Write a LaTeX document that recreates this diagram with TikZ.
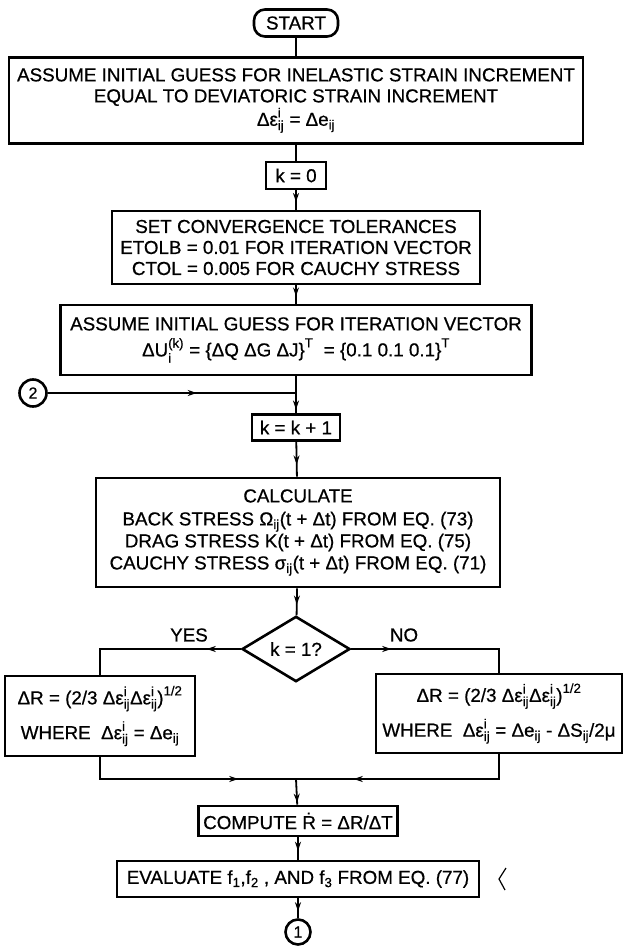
\documentclass[tikz,border=0pt]{standalone}
\usepackage{amsmath}
\usepackage{fontspec}
\setmainfont{Liberation Sans}[FakeBold=0.6]
\usetikzlibrary{arrows.meta,decorations.markings,shapes.geometric}
\newcommand{\fsz}{\fontsize{18.8}{21}\selectfont}
\newcommand{\tx}[1]{\text{#1}}
\newcommand{\DEi}{\tx{Δε}^{\tx{i}}_{\tx{ij}}}
\begin{document}
\begin{tikzpicture}[x=1pt,y=-1pt,
  box/.style={draw,line width=2.6pt,inner sep=0pt,align=center,font=\fsz},
  conn/.style={line width=1.8pt},
  ma/.style={postaction={decorate},decoration={markings,mark=at position #1 with {\arrow{Stealth[length=9pt,width=6pt]}}}},
  lbl/.style={font=\fsz,inner sep=0pt},
  conncirc/.style={draw,circle,line width=2.6pt,inner sep=0pt,font=\fontsize{16}{17}\selectfont}
]
\fill[white] (0,0) rectangle (623,947);
\useasboundingbox (0,0) rectangle (623,947);

\node[box,rounded corners=11pt,minimum width=84pt,minimum height=27pt] (start) at (296,23) {START};
\node[box,minimum width=574pt,minimum height=86pt] (box1) at (296,100.5)
  {ASSUME INITIAL GUESS FOR INELASTIC STRAIN INCREMENT\\EQUAL TO DEVIATORIC STRAIN INCREMENT\\[1pt]
   $\DEi\tx{ = Δe}_{\tx{ij}}$};
\node[box,minimum width=60pt,minimum height=27pt] (k0) at (296,175.5) {k = 0};
\node[box,minimum width=368pt,minimum height=73pt] (box3) at (296,247.5)
  {SET CONVERGENCE TOLERANCES\\ETOLB = 0.01 FOR ITERATION VECTOR\\CTOL = 0.005 FOR CAUCHY STRESS};
\node[box,minimum width=471pt,minimum height=70pt] (box4) at (296,340)
  {ASSUME INITIAL GUESS FOR ITERATION VECTOR\\[5pt]
   $\tx{ΔU}^{\tx{(k)}}_{\tx{i}}\tx{ = \{ΔQ ΔG ΔJ\}}^{\tx{T}}\tx{ \ = \{0.1 0.1 0.1\}}^{\tx{T}}$};
\node[conncirc,minimum size=27pt] (c2) at (33,393) {2};
\coordinate (j2) at (296,393);
\node[box,minimum width=88pt,minimum height=26pt] (kk1) at (296,427.5) {k = k + 1};
\node[box,minimum width=404pt,minimum height=109pt] (calc) at (298,532.5)
  {CALCULATE\\[2pt]
   BACK STRESS $\tx{Ω}_{\tx{ij}}$(t + Δt) FROM EQ. (73)\\[1pt]
   DRAG STRESS K(t + Δt) FROM EQ. (75)\\[1pt]
   CAUCHY STRESS $\tx{σ}_{\tx{ij}}$(t + Δt) FROM EQ. (71)};
\node[draw,diamond,line width=2.6pt,inner sep=0pt,minimum width=108pt,minimum height=49pt,font=\fsz] (dia) at (296,649) {k = 1?};
\node[lbl] (yes) at (189,635) {YES};
\node[lbl] (no) at (404,635) {NO};
\node[box,minimum width=190pt,minimum height=80pt] (lbox) at (100,716)
  {$\tx{ΔR = (2/3 }\DEi\DEi\tx{)}^{\tx{1/2}}$\\[9pt]
   WHERE \ $\DEi\tx{ = Δe}_{\tx{ij}}$};
\node[box,minimum width=246pt,minimum height=79pt] (rbox) at (499,713.5)
  {$\tx{ΔR = (2/3 }\DEi\DEi\tx{)}^{\tx{1/2}}$\\[9pt]
   WHERE \ $\DEi\tx{ = Δe}_{\tx{ij}}\tx{ - ΔS}_{\tx{ij}}\tx{/2μ}$};
\coordinate (j1) at (296,779);
\node[box,minimum width=199pt,minimum height=30pt] (comp) at (298,821)
  {COMPUTE \.{R} = ΔR/ΔT};
\node[box,minimum width=362pt,minimum height=36pt] (eval) at (298,879)
  {EVALUATE $\tx{f}_{\tx{1}}\tx{,f}_{\tx{2}}\tx{ , AND f}_{\tx{3}}$ FROM EQ. (77)};
\node[conncirc,minimum size=25pt] (c1) at (298,932) {1};

\draw[conn] (start) -- (box1);
\draw[conn] (box1) -- (k0);
\draw[conn,ma=0.6] (k0) -- (box3);
\draw[conn,ma=0.6] (box3) -- (box4);
\draw[conn,ma=0.9] (box4) -- (kk1);
\draw[conn,ma=0.6] (c2) -- (j2);
\draw[conn,ma=0.65] (kk1) -- (calc);
\draw[conn,ma=0.6] (calc) -- (dia);
\draw[conn,ma=34pt] (dia.west) -- (dia.west -| lbox.north) -- (lbox.north);
\draw[conn,ma=40pt] (dia.east) -- (dia.east -| rbox.north) -- (rbox.north);
\draw[conn,ma=160pt] (lbox.south) -- (lbox.south |- j1) -- (j1);
\draw[conn,ma=170pt] (rbox.south) -- (rbox.south |- j1) -- (j1);
\draw[conn,ma=0.92] (j1) -- (comp);
\draw[conn,ma=0.6] (comp) -- (eval);
\draw[conn,ma=0.65] (eval) -- (c1);
\draw[line width=1.2pt] (506,868) -- (499,879) -- (505,890);
\end{tikzpicture}
\end{document}
